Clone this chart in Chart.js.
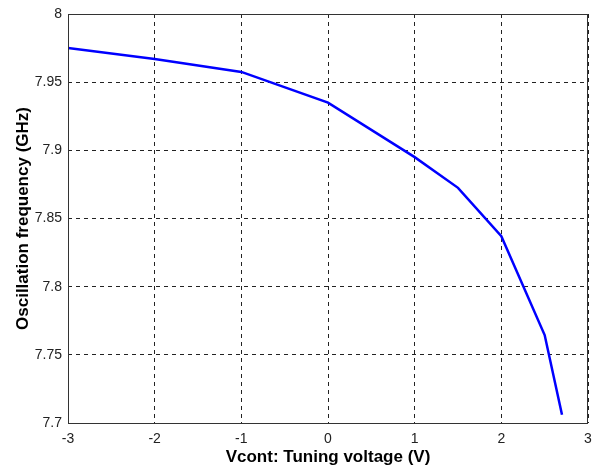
<!DOCTYPE html>
<html>
<head>
<meta charset="utf-8">
<script src="https://cdn.jsdelivr.net/npm/chart.js@4"></script>
<style>
  html, body { margin: 0; padding: 0; background: white; }
  #wrap { width: 592px; height: 472px; }
</style>
</head>
<body>
<div id="wrap"><canvas id="grafico"></canvas></div>
<script>
// tensão de controle (V) e frequência de oscilação (GHz)
const vcont = [-3, -2, -1, 0, 1, 1.5, 2, 2.5, 2.7];
const freq = [7.975, 7.967, 7.9575, 7.935, 7.895, 7.8725, 7.837, 7.7645, 7.706];

const xTicks = [-3, -2, -1, 0, 1, 2, 3];
const yTicks = [7.7, 7.75, 7.8, 7.85, 7.9, 7.95, 8];

const pontos = vcont.map((v, i) => ({ x: v, y: freq[i] }));

// caixa completa em volta da área do gráfico (estilo matlab)
const caixa = {
    id: 'caixa',
    afterDraw(chart) {
        const a = chart.chartArea;
        const c = chart.ctx;
        c.save();
        c.strokeStyle = '#333';
        c.lineWidth = 1;
        c.setLineDash([]);
        c.strokeRect(a.left + 0.5, a.top + 0.5, a.right - a.left - 1, a.bottom - a.top);
        c.restore();
    }
};

const ctx = document.getElementById('grafico').getContext('2d');

const grafico = new Chart(ctx, {
    type: 'scatter',
    data: {
        datasets: [{
            label: '',
            data: pontos,
            showLine: true,
            borderColor: '#0000ff',
            borderWidth: 2.5,
            pointRadius: 0,
            tension: 0
        }]
    },
    options: {
        responsive: true,
        maintainAspectRatio: false,
        animation: false,
        layout: {
            padding: { left: 0, right: 4, top: 14, bottom: 0 }
        },
        plugins: {
            legend: { display: false },
            title: { display: false },
            tooltip: { enabled: false }
        },
        scales: {
            x: {
                type: 'linear',
                min: xTicks[0],
                max: xTicks[xTicks.length - 1],
                afterBuildTicks: (s) => { s.ticks = xTicks.map(v => ({ value: v })); },
                afterFit: (s) => { s.height = 49; s.paddingRight = 0; s.paddingLeft = 0; },
                grid: {
                    color: '#222',
                    lineWidth: 1,
                    drawTicks: false
                },
                border: { display: false, dash: [4, 4] },
                ticks: {
                    color: '#222',
                    padding: 8,
                    font: { family: 'Liberation Sans', size: 14 },
                    callback: (v) => String(v)
                },
                title: {
                    display: true,
                    text: 'Vcont: Tuning voltage (V)',
                    color: '#000',
                    font: { family: 'Liberation Sans', size: 17, weight: 'bold' },
                    padding: { top: 0, bottom: 4 }
                }
            },
            y: {
                type: 'linear',
                min: yTicks[0],
                max: yTicks[yTicks.length - 1],
                afterBuildTicks: (s) => { s.ticks = yTicks.map(v => ({ value: v })); },
                afterFit: (s) => { s.width = 68; s.paddingTop = 0; s.paddingBottom = 0; },
                grid: {
                    color: '#222',
                    lineWidth: 1,
                    drawTicks: false
                },
                border: { display: false, dash: [4, 4] },
                ticks: {
                    color: '#222',
                    padding: 6,
                    font: { family: 'Liberation Sans', size: 14 },
                    callback: (v) => String(Number(v.toFixed(2)))
                },
                title: {
                    display: true,
                    text: 'Oscillation frequency (GHz)',
                    color: '#000',
                    font: { family: 'Liberation Sans', size: 17, weight: 'bold' },
                    padding: { top: 13, bottom: 0 }
                }
            }
        }
    },
    plugins: [caixa]
});
</script>
</body>
</html>
